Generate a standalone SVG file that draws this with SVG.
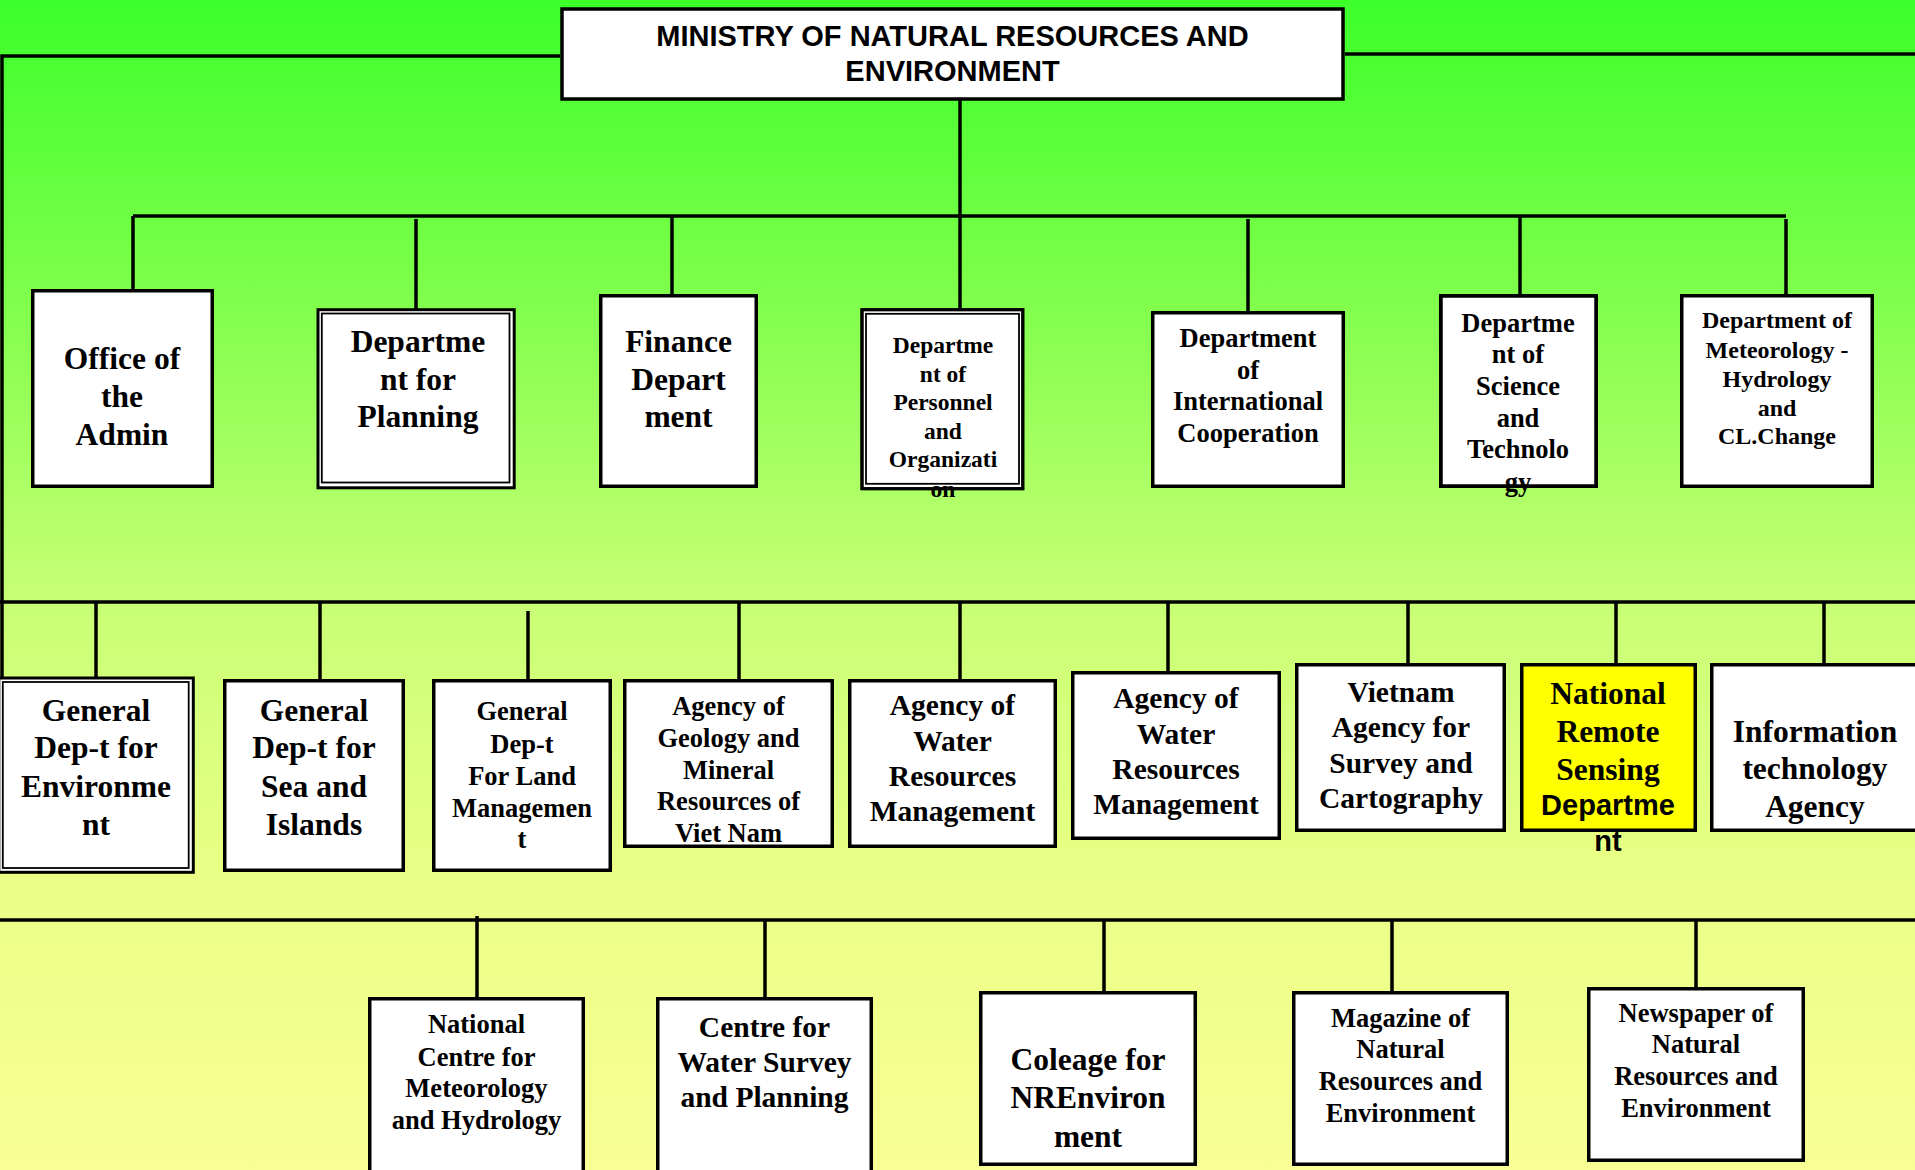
<svg xmlns="http://www.w3.org/2000/svg" width="1915" height="1170" viewBox="0 0 1915 1170">
<defs>
<linearGradient id="bg" x1="0" y1="0" x2="0" y2="1">
<stop offset="0" stop-color="#3CFF2A"/>
<stop offset="0.256" stop-color="#80FF4C"/>
<stop offset="0.444" stop-color="#B5FF6A"/>
<stop offset="0.504" stop-color="#C6FF74"/>
<stop offset="0.752" stop-color="#EAFF86"/>
<stop offset="1" stop-color="#F8FF94"/>
</linearGradient>
<style>
.box{fill:#fff;stroke:#000;stroke-width:3.5}
.yel{fill:#FFFF00;stroke:#000;stroke-width:3.5}
.out{fill:#fff;stroke:#000;stroke-width:3}
.inn{fill:none;stroke:#000;stroke-width:1.8}
.edge{fill:none;stroke:#000;stroke-width:3.5}
.conn{fill:none;stroke:#000;stroke-width:3.5;stroke-linecap:butt}
.t{font-family:"Liberation Serif","Times New Roman",serif;font-weight:bold;text-anchor:middle;fill:#000}
.sans{font-family:"Liberation Sans",Arial,sans-serif;font-weight:bold;text-anchor:middle;fill:#000}
.f31{font-size:31.5px}
.f29{font-size:29.5px}
.f26{font-size:26.5px}
.f24{font-size:24px}
.f23{font-size:23.5px}
</style>
</defs>
<rect x="0" y="0" width="1915" height="1170" fill="url(#bg)"/>

<g id="connectors">
<path class="conn" d="M560 56 H2 V678"/>
<path class="conn" d="M1345 54 H1915"/>
<path class="conn" d="M133 216 H1786"/>
<path class="conn" d="M133 216 V289 M416 219 V311 M672 216 V294 M960 100 V317 M1248 219 V311 M1520 216 V294 M1786 219 V294"/>
<path class="conn" d="M0 602 H1915"/>
<path class="conn" d="M96 602 V678 M320 602 V679 M528 611 V679 M739 602 V679 M960 602 V679 M1168 602 V671 M1408 602 V666 M1616 602 V663 M1824 602 V669"/>
<path class="conn" d="M0 920 H1915"/>
<path class="conn" d="M477 916 V997 M765 920 V997 M1104 920 V995 M1392 920 V991 M1696 920 V987"/>
</g>

<g id="ministry">
<rect class="box" x="562" y="9" width="781" height="90" stroke-width="4"/>
<text class="sans" font-size="29"><tspan x="952.5" y="46">MINISTRY OF NATURAL RESOURCES AND</tspan><tspan x="952.5" y="81">ENVIRONMENT</tspan></text>
</g>

<g id="office-admin">
<rect class="box" x="32.75" y="290.75" width="179.5" height="195.5"/>
<text class="t f31"><tspan x="122" y="369">Office of</tspan><tspan x="122" y="407">the</tspan><tspan x="122" y="445">Admin</tspan></text>
</g>

<g id="dept-planning">
<rect class="out" x="318" y="309.7" width="196.2" height="178.1"/>
<rect class="inn" x="321.8" y="313.5" width="187.7" height="169"/>
<text class="t f31"><tspan x="418" y="352">Departme</tspan><tspan x="418" y="390">nt for</tspan><tspan x="418" y="427">Planning</tspan></text>
</g>

<g id="finance-dept">
<rect class="box" x="600.75" y="295.75" width="155.5" height="190.5"/>
<text class="t f31"><tspan x="678.5" y="352">Finance</tspan><tspan x="678.5" y="390">Depart</tspan><tspan x="678.5" y="427">ment</tspan></text>
</g>

<g id="dept-personnel">
<rect class="out" x="862" y="309.7" width="160.8" height="179"/>
<text class="t f23"><tspan x="943" y="353">Departme</tspan><tspan x="943" y="381.5">nt of</tspan><tspan x="943" y="410">Personnel</tspan><tspan x="943" y="438.5">and</tspan><tspan x="943" y="467">Organizati</tspan><tspan x="943" y="497">on</tspan></text>
<rect class="out" x="862" y="309.7" width="160.8" height="179" fill="none" style="fill:none"/>
<rect class="inn" x="866" y="313.8" width="153" height="170"/>
</g>

<g id="dept-intl">
<rect class="box" x="1152.75" y="312.75" width="190.5" height="173.5"/>
<text class="t f26"><tspan x="1248" y="347">Department</tspan><tspan x="1248" y="378.5">of</tspan><tspan x="1248" y="410">International</tspan><tspan x="1248" y="442">Cooperation</tspan></text>
</g>

<g id="dept-science">
<rect class="box" x="1440.75" y="295.75" width="155.5" height="190.5"/>
<text class="t f26"><tspan x="1518" y="331.7">Departme</tspan><tspan x="1518" y="363.3">nt of</tspan><tspan x="1518" y="395">Science</tspan><tspan x="1518" y="426.7">and</tspan><tspan x="1518" y="458.3">Technolo</tspan><tspan x="1518" y="491">gy</tspan></text>
<rect class="edge" x="1440.75" y="295.75" width="155.5" height="190.5"/>
</g>

<g id="dept-meteorology">
<rect class="box" x="1681.75" y="295.75" width="190.5" height="190.5"/>
<text class="t f24"><tspan x="1777" y="328">Department of</tspan><tspan x="1777" y="357.5">Meteorology -</tspan><tspan x="1777" y="387">Hydrology</tspan><tspan x="1777" y="416">and</tspan><tspan x="1777" y="443.5">CL.Change</tspan></text>
</g>

<g id="gd-environment">
<rect class="out" x="-1.2" y="678" width="194.5" height="194.3"/>
<rect class="inn" x="2.8" y="682" width="185.9" height="186"/>
<text class="t f31"><tspan x="96" y="720.5">General</tspan><tspan x="96" y="758">Dep-t for</tspan><tspan x="96" y="797">Environme</tspan><tspan x="96" y="835">nt</tspan></text>
</g>

<g id="gd-sea-islands">
<rect class="box" x="224.75" y="680.75" width="178.5" height="189.5"/>
<text class="t f31"><tspan x="314" y="720.5">General</tspan><tspan x="314" y="758">Dep-t for</tspan><tspan x="314" y="797">Sea and</tspan><tspan x="314" y="835">Islands</tspan></text>
</g>

<g id="gd-land">
<rect class="box" x="433.75" y="680.75" width="176.5" height="189.5"/>
<text class="t f26"><tspan x="522" y="720">General</tspan><tspan x="522" y="753">Dep-t</tspan><tspan x="522" y="785">For Land</tspan><tspan x="522" y="817">Managemen</tspan><tspan x="522" y="848">t</tspan></text>
</g>

<g id="agency-geology">
<rect class="box" x="624.75" y="680.75" width="207.5" height="165.5"/>
<text class="t f26"><tspan x="728.5" y="715">Agency of</tspan><tspan x="728.5" y="747">Geology and</tspan><tspan x="728.5" y="778.5">Mineral</tspan><tspan x="728.5" y="810">Resources of</tspan><tspan x="728.5" y="842">Viet Nam</tspan></text>
</g>

<g id="agency-water-1">
<rect class="box" x="849.75" y="680.75" width="205.5" height="165.5"/>
<text class="t f29"><tspan x="952.5" y="715">Agency of</tspan><tspan x="952.5" y="751">Water</tspan><tspan x="952.5" y="786">Resources</tspan><tspan x="952.5" y="821">Management</tspan></text>
</g>

<g id="agency-water-2">
<rect class="box" x="1072.75" y="672.75" width="206.5" height="165.5"/>
<text class="t f29"><tspan x="1176" y="708">Agency of</tspan><tspan x="1176" y="744">Water</tspan><tspan x="1176" y="779">Resources</tspan><tspan x="1176" y="814">Management</tspan></text>
</g>

<g id="agency-survey">
<rect class="box" x="1296.75" y="664.75" width="207.5" height="165.5"/>
<text class="t f29"><tspan x="1401" y="701.7">Vietnam</tspan><tspan x="1401" y="737">Agency for</tspan><tspan x="1401" y="772.5">Survey and</tspan><tspan x="1401" y="808">Cartography</tspan></text>
</g>

<g id="remote-sensing">
<rect class="yel" x="1521.75" y="664.75" width="173.5" height="165.5"/>
<text class="t f31"><tspan x="1608" y="704">National</tspan><tspan x="1608" y="742">Remote</tspan><tspan x="1608" y="780">Sensing</tspan></text>
<text class="sans" font-size="29"><tspan x="1608" y="815">Departme</tspan><tspan x="1608" y="851">nt</tspan></text>
</g>

<g id="it-agency">
<rect class="box" x="1711.75" y="664.75" width="215" height="165.5"/>
<text class="t f31"><tspan x="1815" y="741.7">Information</tspan><tspan x="1815" y="779.2">technology</tspan><tspan x="1815" y="816.7">Agency</tspan></text>
</g>

<g id="centre-meteo-hydro">
<rect class="box" x="369.75" y="998.75" width="213.5" height="190"/>
<text class="t f26"><tspan x="476.5" y="1033">National</tspan><tspan x="476.5" y="1065.5">Centre for</tspan><tspan x="476.5" y="1097">Meteorology</tspan><tspan x="476.5" y="1129">and Hydrology</tspan></text>
</g>

<g id="centre-water-survey">
<rect class="box" x="657.75" y="998.75" width="213.5" height="190"/>
<text class="t f29"><tspan x="764.5" y="1036.7">Centre for</tspan><tspan x="764.5" y="1071.7">Water Survey</tspan><tspan x="764.5" y="1106.7">and Planning</tspan></text>
</g>

<g id="coleage">
<rect class="box" x="980.75" y="992.75" width="214.5" height="171.5"/>
<text class="t f31"><tspan x="1088" y="1070">Coleage for</tspan><tspan x="1088" y="1108">NREnviron</tspan><tspan x="1088" y="1146.7">ment</tspan></text>
</g>

<g id="magazine">
<rect class="box" x="1293.75" y="992.75" width="213.5" height="171.5"/>
<text class="t f26"><tspan x="1400.5" y="1026.7">Magazine of</tspan><tspan x="1400.5" y="1058.3">Natural</tspan><tspan x="1400.5" y="1090">Resources and</tspan><tspan x="1400.5" y="1121.7">Environment</tspan></text>
</g>

<g id="newspaper">
<rect class="box" x="1588.75" y="988.75" width="214.5" height="171.5"/>
<text class="t f26"><tspan x="1696" y="1021.7">Newspaper of</tspan><tspan x="1696" y="1053.3">Natural</tspan><tspan x="1696" y="1085">Resources and</tspan><tspan x="1696" y="1116.7">Environment</tspan></text>
</g>
</svg>
